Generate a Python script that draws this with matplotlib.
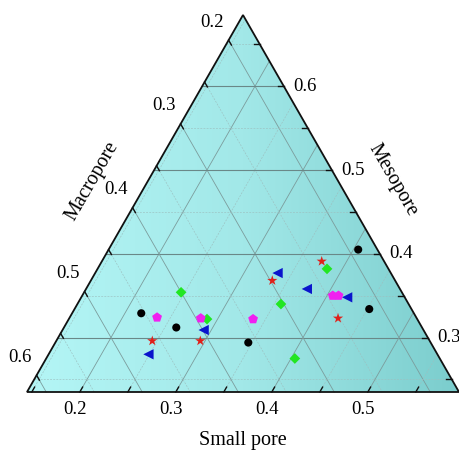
import numpy as np
import matplotlib.pyplot as plt
from matplotlib.patches import Polygon
from matplotlib.colors import LinearSegmentedColormap

plt.rcParams['font.family'] = ['Liberation Serif', 'DejaVu Serif']

# truncated ternary ranges (each side spans 0.45)
small_min, meso_min, macro_min = 0.145, 0.235, 0.17
span = 0.45

# --- data (small pore, mesopore, macropore fractions) ---
black_small = [0.217, 0.262, 0.346, 0.405, 0.452]
black_meso = [0.329, 0.312, 0.294, 0.405, 0.334]
black_macro = [0.454, 0.426, 0.360, 0.190, 0.214]

red_small = [0.245, 0.295, 0.334, 0.374, 0.425]
red_meso = [0.296, 0.296, 0.368, 0.391, 0.323]
red_macro = [0.459, 0.409, 0.298, 0.235, 0.252]

green_small = [0.246, 0.289, 0.357, 0.384, 0.404]
green_meso = [0.354, 0.322, 0.340, 0.382, 0.275]
green_macro = [0.400, 0.389, 0.303, 0.234, 0.321]

blue_small = [0.249, 0.292, 0.335, 0.375, 0.422]
blue_meso = [0.280, 0.309, 0.377, 0.358, 0.348]
blue_macro = [0.471, 0.399, 0.288, 0.267, 0.230]

pink_small = [0.236, 0.282, 0.337, 0.406, 0.412]
pink_meso = [0.324, 0.323, 0.322, 0.350, 0.350]
pink_macro = [0.440, 0.395, 0.341, 0.244, 0.238]

small_ticks = [0.2, 0.3, 0.4, 0.5]
meso_ticks = [0.3, 0.4, 0.5, 0.6]
macro_ticks = [0.2, 0.3, 0.4, 0.5, 0.6]

H = np.sqrt(3) / 2


def to_xy(small, meso):
    s = (np.asarray(small) - small_min) / span
    m = (np.asarray(meso) - meso_min) / span
    return s + m / 2, m * H


fig = plt.figure(figsize=(4.6, 4.5), dpi=100)
ax = fig.add_axes([0, 0, 1, 1])
ax.set_xlim(-27 / 432, 433 / 432)
ax.set_ylim(-58 / 435.3, 392 / 435.3)
ax.axis('off')

# gradient fill clipped to triangle
tri = Polygon([[0, 0], [1, 0], [0.5, H]], closed=True, facecolor='none',
              edgecolor='#111111', lw=1.3, zorder=5)
ax.add_patch(tri)
grad = np.linspace(0, 1, 256)[None, :]
cmap = LinearSegmentedColormap.from_list('cy', ['#b4f6f6', '#a2e8e8', '#7bcdcd'])
im = ax.imshow(grad, extent=[0, 1, 0, H], cmap=cmap, aspect='auto',
               origin='lower', zorder=0)
im.set_clip_path(tri)

# grid lines
vals = np.round(np.arange(0.15, 0.651, 0.05), 2)
for v in vals:
    major = abs(v * 10 - round(v * 10)) < 1e-6
    kw = dict(color='#7c9c9c', lw=0.6, zorder=1) if major else \
        dict(color='#9cc0c0', lw=0.45, ls=(0, (3, 2)), zorder=1)
    # small pore = v
    if small_min < v < small_min + span:
        x, y = to_xy([v, v], [meso_min, 1 - v - macro_min])
        ax.plot(x, y, **kw)
        ax.plot([x[0], x[0] + 0.5 * 0.013], [0, H * 0.013],
                color='#111111', lw=1, zorder=6)
    # mesopore = v
    if meso_min < v < meso_min + span:
        x, y = to_xy([small_min, 1 - v - macro_min], [v, v])
        kw_h = dict(kw)
        if major:
            kw_h.update(color='#6a8888', lw=0.8)
        ax.plot(x, y, **kw_h)
        ax.plot([x[1], x[1] - 0.013], [y[1], y[1]], color='#111111', lw=1, zorder=6)
    # macropore = v
    if macro_min < v < macro_min + span:
        x, y = to_xy([small_min, 1 - v - meso_min], [1 - v - small_min, meso_min])
        ax.plot(x, y, **kw)
        ax.plot([x[0], x[0] + 0.5 * 0.013], [y[0], y[0] - H * 0.013],
                color='#111111', lw=1, zorder=6)

# tick labels
fs = 13.5
for v in small_ticks:
    x, y = to_xy(v, meso_min)
    ax.annotate(f'{v:.1f}', (x, y), xytext=(-5, -17), textcoords='offset pixels',
                ha='center', va='center', fontsize=fs)
for v in meso_ticks:
    x, y = to_xy(1 - v - macro_min, v)
    ax.annotate(f'{v:.1f}', (x, y), xytext=(21, 0), textcoords='offset pixels',
                ha='center', va='center', fontsize=fs)
for v in macro_ticks:
    x, y = to_xy(small_min, 1 - v - small_min)
    ax.annotate(f'{v:.1f}', (x, y), xytext=(-17, 18), textcoords='offset pixels',
                ha='center', va='center', fontsize=fs)

# axis titles
ax.text(0.5, (450 - 441 - 58) / 435.3, 'Small pore', ha='center', va='center', fontsize=14.5)
ax.text((92 - 27) / 432, (392 - 181) / 435.3, 'Macropore', ha='center', va='center',
        rotation=60, fontsize=14.5)
ax.text((393 - 27) / 432, (392 - 180) / 435.3, 'Mesopore', ha='center', va='center',
        rotation=-60, fontsize=14.5)

# data points
series = [
    (black_small, black_meso, 'o', 'black', 34),
    (red_small, red_meso, '*', '#e0201a', 60),
    (green_small, green_meso, 'D', '#22e622', 30),
    (blue_small, blue_meso, '<', '#0a14cc', 55),
    (pink_small, pink_meso, 'p', '#f020f0', 55),
]
for s, m, mk, c, sz in series:
    x, y = to_xy(s, m)
    ax.scatter(x, y, marker=mk, c=c, s=sz, edgecolors='none', zorder=4)

fig.savefig('out.png', dpi=100)
